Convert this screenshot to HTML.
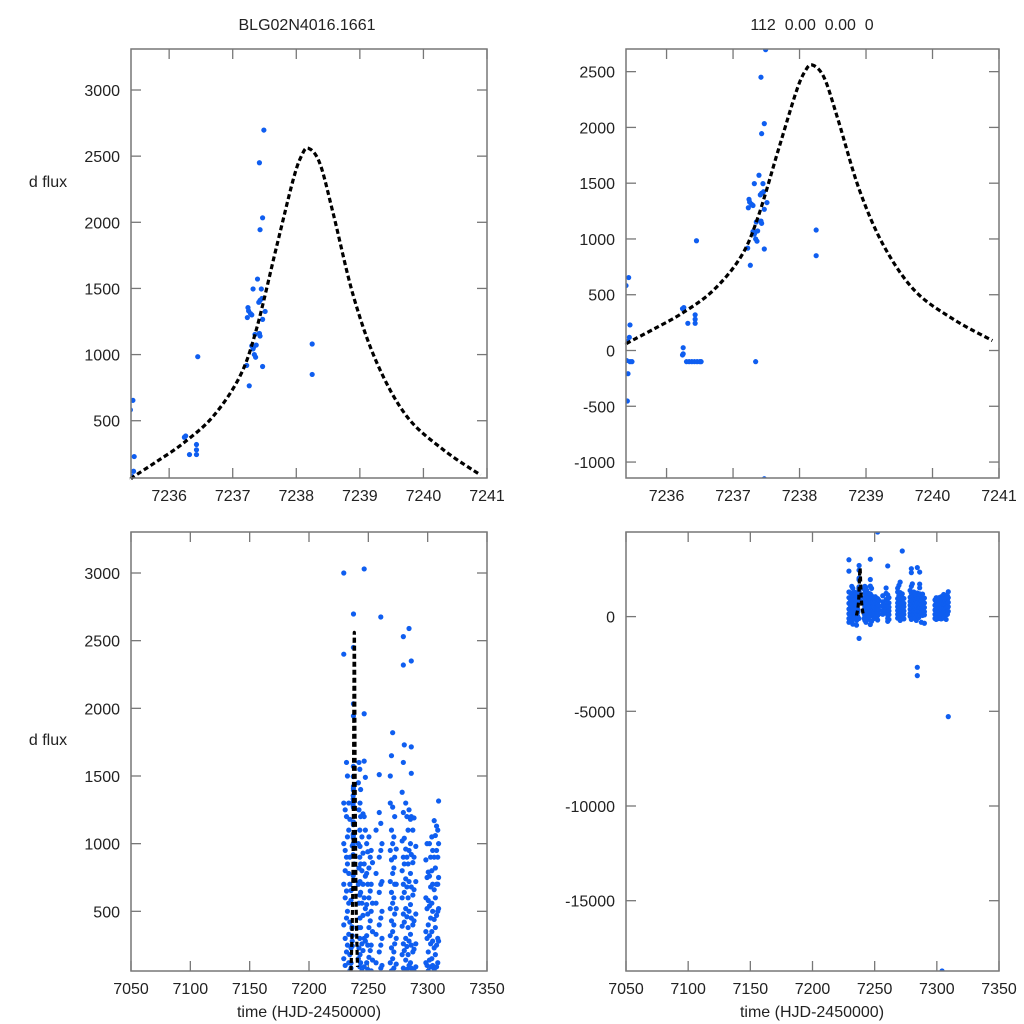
<!DOCTYPE html>
<html><head><meta charset="utf-8"><style>
html,body{margin:0;padding:0;background:#fff;width:1024px;height:1024px;overflow:hidden;}
svg{display:block;font-family:"Liberation Sans",Arial,sans-serif;}
</style></head><body>
<svg id="fig" width="1024" height="1024" viewBox="0 0 1024 1024">
<text x="307" y="30" font-size="16" text-anchor="middle" fill="#222">BLG02N4016.1661</text>
<text x="812" y="30" font-size="16" text-anchor="middle" fill="#222" xml:space="preserve">112  0.00  0.00  0</text>
<text x="48" y="187" font-size="16" text-anchor="middle" fill="#222">d flux</text>
<text x="48" y="745" font-size="16" text-anchor="middle" fill="#222">d flux</text>
<text x="309" y="1017" font-size="16" text-anchor="middle" fill="#222">time (HJD-2450000)</text>
<text x="812" y="1017" font-size="16" text-anchor="middle" fill="#222">time (HJD-2450000)</text>
</svg>
<script>
// model curve
const modelT=[7235.40,7235.44,7235.8,7236.22,7236.69,7237.11,7237.37,7237.69,7237.95,7238.08,7238.19,7238.37,7238.58,7238.90,7239.27,7239.74,7240.32,7240.90];
const modelF=[60,77,190,329,532,833,1186,1816,2320,2500,2560,2446,2068,1440,935,532,278,89];
// event-night observations
const evtT=[7235.39,7235.43,7235.45,7235.44,7235.41,7235.40,7235.42,7235.41,7235.45,7235.48,7236.24,7236.26,7236.32,7236.43,7236.43,7236.43,7236.45,7236.25,7236.25,7236.24,7236.30,7236.34,7236.38,7236.42,7236.46,7236.50,7236.52,7237.34,7237.49,7237.42,7237.47,7237.43,7237.39,7237.32,7237.45,7237.24,7237.23,7237.25,7237.28,7237.30,7237.41,7237.43,7237.46,7237.47,7237.51,7237.35,7237.42,7237.43,7237.30,7237.32,7237.33,7237.37,7237.34,7237.36,7237.22,7237.47,7237.26,7238.25,7238.25,7237.47];
const evtF=[582,654,229,118,80,-90,-208,-453,-100,-100,375,385,244,320,280,244,984,25,-30,-40,-100,-100,-100,-100,-100,-100,-100,-100,2697,2450,2034,1944,1571,1496,1496,1355,1280,1330,1310,1300,1395,1410,1424,1266,1326,1152,1160,1140,1066,1043,1057,1072,1000,980,918,910,764,1080,850,-1150];
// season observations: night times and fluxes per night
const nightT=[7229.3,7230.5,7231.6,7232.4,7233.5,7234.4,7241.6,7242.1,7242.8,7243.0,7243.5,7244.6,7245.5,7246.5,7247.5,7248.6,7249.5,7250.5,7251.6,7252.4,7253.5,7256.5,7259.2,7260.5,7261.5,7268.5,7269.5,7270.5,7271.5,7272.2,7273.5,7278.5,7279.5,7280.3,7281.5,7282.5,7283.5,7284.3,7285.5,7286.2,7287.5,7288.5,7290.0,7298.5,7299.5,7300.5,7301.5,7302.5,7303.5,7304.2,7305.5,7306.5,7307.5,7308.5,7309.2];
const nightF=[
[3000,2400,1300,1000,700,400,150,-100,-300],
[1250,950,800,600,300,100,-50,-250],
[1600,1200,900,650,450,200,0,-200],
[1500,1050,850,500,250,-150,-400],
[1300,1100,780,560,330,120,-80],
[1180,900,700,420,180,60],
[1450,1000,700,380,150,-100],
[1600,1250,820,560,230,40,-200],
[1550,1100,900,620,300,90],
[1300,980,720,450,180,-50,-300],
[1400,1200,850,640,380,120],
[1050,800,560,260,60,-150],
[1220,930,700,470,210,-20],
[3030,1960,1610,1200,850,600,300,90,-420],
[1490,1100,760,520,280,40,-250],
[1000,780,550,320,120],
[940,700,480,250,70,-100],
[1050,820,600,380,160,-60],
[900,650,430,210,-30],
[4467,950,700,500,250,60,-180],
[860,560,350,140],
[1100,780,560,330,120],
[1510,1230,900,640,400,200],
[2675,1150,950,700,450,250,80,-100,-250],
[1000,720,500,300,100,-150],
[1500,1300,950,720,520,320,120,-80],
[1650,1100,880,640,430,230,60],
[1820,1270,1000,780,560,350,150,-40,-200],
[1050,820,600,400,200,80],
[3465,1200,900,700,480,260],
[960,700,520,300,110,-120],
[1380,1020,800,600,390,180,20],
[2530,2320,1600,1230,900,700,480,260,80,-150],
[1730,1040,850,640,420,210,60,-100],
[1300,960,740,520,300,140],
[1200,900,680,460,240,70,-80],
[1100,850,600,380,180,-200],
[2590,1250,950,720,500,280,100,-3115,-2677],
[1180,1000,780,550,330,120,-50],
[2350,1715,1520,1200,920,680,450,250,80],
[1100,860,620,400,200,-300],
[1190,900,660,430,220,60],
[980,720,480,260,90,-350],
[880,600,350,120,-100],
[1000,750,520,300,100,-150],
[790,580,400,200,60,-60],
[1000,760,540,320,140,-100],
[900,680,450,260,90],
[1050,800,560,350,150,-120],
[-18710,950,700,500,280,100],
[1170,900,660,440,230,70,-80],
[1060,820,600,380,180],
[1130,950,700,470,250,90,-150],
[1100,900,700,500,300,120],
[1315,1000,750,520,280,-5280]];
// axis tick labels
const xTicksZoom=[7236,7237,7238,7239,7240,7241];
const xTicksFull=[7050,7100,7150,7200,7250,7300,7350];
const yTicksTL=[500,1000,1500,2000,2500,3000];
const yTicksTR=[-1000,-500,0,500,1000,1500,2000,2500];
const yTicksBL=[500,1000,1500,2000,2500,3000];
const yTicksBR=[-15000,-10000,-5000,0];

const NS='http://www.w3.org/2000/svg';
const svg=document.getElementById('fig');
function mk(tag,attrs,parent){const e=document.createElementNS(NS,tag);for(const k in attrs)e.setAttribute(k,attrs[k]);(parent||svg).appendChild(e);return e;}

const obsT=[],obsF=[];
evtT.forEach((t,i)=>{obsT.push(t);obsF.push(evtF[i]);});
nightT.forEach((t,i)=>{nightF[i].forEach(f=>{obsT.push(t);obsF.push(f);});});

function smoothPath(P){
  let d='M'+P[0][0].toFixed(2)+','+P[0][1].toFixed(2);
  for(let i=0;i<P.length-1;i++){
    const p0=P[Math.max(0,i-1)],p1=P[i],p2=P[i+1],p3=P[Math.min(P.length-1,i+2)];
    const c1=[p1[0]+(p2[0]-p0[0])/6,p1[1]+(p2[1]-p0[1])/6];
    const c2=[p2[0]-(p3[0]-p1[0])/6,p2[1]-(p3[1]-p1[1])/6];
    d+=' C'+c1[0].toFixed(2)+','+c1[1].toFixed(2)+' '+c2[0].toFixed(2)+','+c2[1].toFixed(2)+' '+p2[0].toFixed(2)+','+p2[1].toFixed(2);
  }
  return d;
}

function panel(id,box,xr,yr,xt,yt){
  const [L,T,R,B]=box;
  const sx=v=>L+(v-xr[0])/(xr[1]-xr[0])*(R-L);
  const sy=v=>B-(v-yr[0])/(yr[1]-yr[0])*(B-T);
  const g=mk('g',{});
  
  
  const cp=mk('clipPath',{id:'clip-'+id},g);
  mk('rect',{x:L,y:T,width:R-L,height:B-T},cp);
  xt.forEach(v=>{const x=sx(v);
    const t1=mk('line',{x1:x,y1:B,x2:x,y2:B-10,stroke:'#777','stroke-width':1.3},g);
    
    mk('line',{x1:x,y1:T,x2:x,y2:T+10,stroke:'#777','stroke-width':1.3},g);
    const lb=mk('text',{x:x,y:B+23,'font-size':16,'text-anchor':'middle',fill:'#222'},g);
    lb.textContent=v;
    
  });
  yt.forEach(v=>{const y=sy(v);
    const t1=mk('line',{x1:L,y1:y,x2:L+10,y2:y,stroke:'#777','stroke-width':1.3},g);
    
    mk('line',{x1:R,y1:y,x2:R-10,y2:y,stroke:'#777','stroke-width':1.3},g);
    const lb=mk('text',{x:L-11,y:y+6,'font-size':16,'text-anchor':'end',fill:'#222'},g);
    lb.textContent=v;
    
  });
  const pg=mk('g',{'clip-path':'url(#clip-'+id+')'},g);
  
  
  obsT.forEach((t,i)=>{
    if(t<xr[0]-0.05||t>xr[1]) return;
    const c=mk('circle',{cx:sx(t),cy:sy(obsF[i]),r:2.6,fill:'#0f5ef0'},pg);
    
    
  });
  const P=modelT.map((t,i)=>[sx(t),sy(modelF[i])]);
  const pl=mk('path',{d:smoothPath(P),fill:'none',stroke:'#000','stroke-width':3.2,'stroke-dasharray':'5,3','stroke-linejoin':'round'},g);
  
  
  const fr=mk('rect',{x:L,y:T,width:R-L,height:B-T,fill:'none',stroke:'#777','stroke-width':1.5},g);
  
  
}
panel('top-left',[131,49,487,478],[7235.4,7241],[67,3310],xTicksZoom,yTicksTL);
panel('top-right',[626,49,999,478],[7235.39,7241],[-1143,2703],xTicksZoom,yTicksTR);
panel('bottom-left',[131,532,487,971],[7050,7350],[59,3303],xTicksFull,yTicksBL);
panel('bottom-right',[626,532,999,971],[7050,7350],[-18712,4467],xTicksFull,yTicksBR);
</script>
</body></html>
